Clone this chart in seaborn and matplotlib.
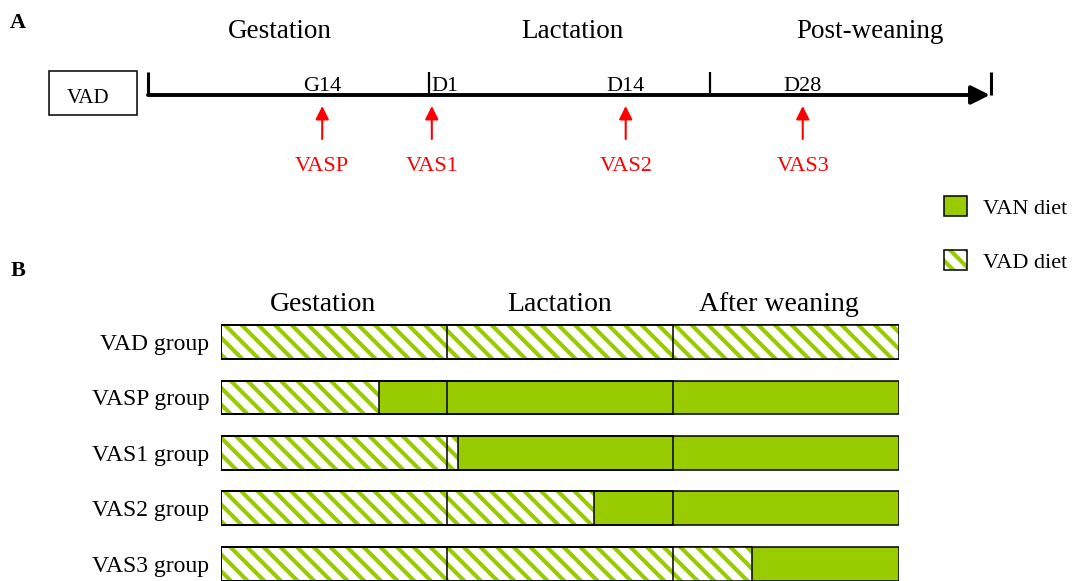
import matplotlib
matplotlib.use("Agg")
import matplotlib.pyplot as plt
from matplotlib.patches import Patch, Rectangle
import seaborn as sns
import pandas as pd

sns.set_style("white")
plt.rcParams["font.family"] = ["Liberation Serif", "DejaVu Serif"]
plt.rcParams["hatch.linewidth"] = 3.0
plt.rcParams["text.color"] = "black"
plt.rcParams["ytick.color"] = "black"

# panel A: timeline (times in stage units, 1 stage = one period)
stages_a = ["Gestation", "Lactation", "Post-weaning"]
events = ["G14", "D1", "D14", "D28"]
event_stage = [0.62, 1.01, 1.70, 2.33]
supplements = ["VASP", "VAS1", "VAS2", "VAS3"]

# panel B: VAD diet until switch point, VAN diet afterwards
stages_b = ["Gestation", "Lactation", "After weaning"]
groups = ["VAD group", "VASP group", "VAS1 group", "VAS2 group", "VAS3 group"]
switch_stage = [3.0, 0.70, 1.05, 1.65, 2.35]

green = "#99CC00"
hatch = "\\\\"
W, H = 1075, 581

fig = plt.figure(figsize=(W / 100, H / 100), dpi=100)

# ---------- A ----------
axA = fig.add_axes([148 / W, 1 - 200 / H, 843 / W, 200 / H])
axA.set_xlim(0, 3)
axA.set_ylim(200, 0)
axA.axis("off")

axA.annotate("", xy=(2.996, 95), xytext=(0, 95),
             arrowprops=dict(arrowstyle="-|>", lw=2.8, color="k",
                             mutation_scale=28, shrinkA=0, shrinkB=0))
axA.vlines(range(len(stages_a) + 1), 72, 95, color="k",
           lw=[2.2, 1.6, 1.6, 2.2], clip_on=False)

title_x = [0.47, 1.51, 2.57]
for x, s in zip(title_x, stages_a):
    axA.text(x, 38, s, ha="center", va="baseline", fontsize=19.5)

for x, ev, sup in zip(event_stage, events, supplements):
    if ev == "D1":
        axA.text(1.01, 91, ev, ha="left", va="baseline", fontsize=16)
    else:
        axA.text(x, 91, ev, ha="center", va="baseline", fontsize=16)
    axA.annotate("", xy=(x, 106), xytext=(x, 139),
                 arrowprops=dict(arrowstyle="-|>", color="red", lw=1.5,
                                 mutation_scale=20, shrinkA=0, shrinkB=0))
    axA.text(x, 171, sup, ha="center", va="baseline", fontsize=16, color="red")

axA.add_patch(Rectangle((-0.352, 71), 0.313, 44, fill=False, ec="k", lw=1.1, clip_on=False))
axA.text(-0.215, 103, "VAD", ha="center", va="baseline", fontsize=15)

fig.text(18 / W, 1 - 28 / H, "A", ha="center", va="baseline", fontsize=16, weight="bold")
fig.text(18 / W, 1 - 276 / H, "B", ha="center", va="baseline", fontsize=16, weight="bold")

# ---------- B ----------
axB = fig.add_axes([221 / W, 0, 678 / W, 266.75 / H])
df = pd.DataFrame({"group": groups, "switch": switch_stage})
df["end"] = len(stages_b)

bar_kw = dict(orient="h", width=0.61, errorbar=None, ax=axB)
sns.barplot(data=df, x="end", y="group", color=green, saturation=1,
            edgecolor="k", linewidth=1.1, **bar_kw)
sns.barplot(data=df, x="switch", y="group", color="white", saturation=1,
            edgecolor=green, linewidth=0, hatch=hatch, **bar_kw)
sns.barplot(data=df, x="switch", y="group", fill=False, color="k",
            edgecolor="k", linewidth=1.1, **bar_kw)
for b in range(1, len(stages_b)):
    sns.barplot(x=[b] * len(groups), y=groups, fill=False, color="k",
                edgecolor="k", linewidth=1.1, **bar_kw)

axB.set_xlim(0, 3)
axB.set_ylim(4.31, -0.5)
axB.set_xlabel("")
axB.set_ylabel("")
axB.set_xticks([])
axB.tick_params(axis="y", length=0, pad=8.6, labelsize=17, labelcolor="black")
for sp in axB.spines.values():
    sp.set_visible(False)

stage_label_x = [0.45, 1.5, 2.47]
for x, s in zip(stage_label_x, stages_b):
    axB.text(x, -0.56, s, ha="center", va="baseline", fontsize=20)

handles = [Patch(facecolor=green, edgecolor="k", lw=1.1),
           (Patch(facecolor="white", edgecolor=green, hatch=hatch, lw=0),
            Patch(fill=False, edgecolor="k", lw=1.1))]
fig.legend(handles, ["VAN diet", "VAD diet"], loc="upper left",
           bbox_to_anchor=(944 / W, 1 - 196 / H), frameon=False, fontsize=16,
           handlelength=1.04, handleheight=1.04, handletextpad=0.72,
           labelspacing=1.4, borderaxespad=0, borderpad=0)

fig.savefig("out.png", dpi=100)
